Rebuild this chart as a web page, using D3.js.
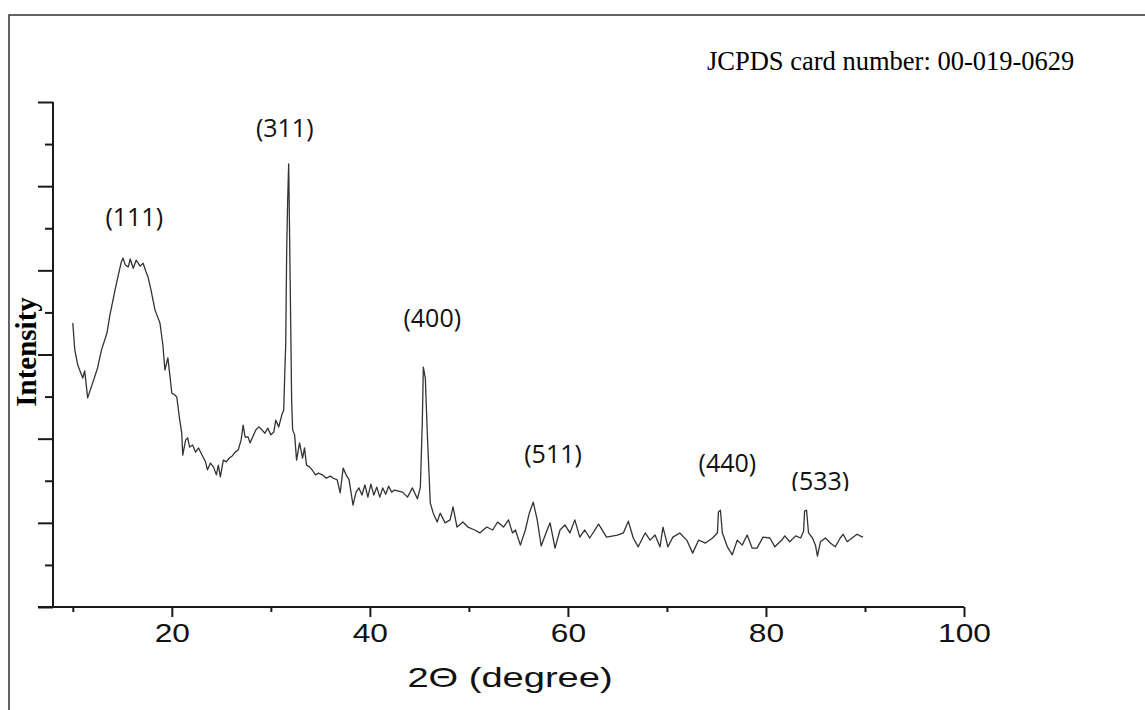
<!DOCTYPE html>
<html>
<head>
<meta charset="utf-8">
<script src="https://cdn.jsdelivr.net/npm/d3@7"></script>
<style>
  body { margin: 0; background: #fff; }
  svg { display: block; }
</style>
</head>
<body>
<div id="chart"></div>
<script>
// XRD pattern (2-theta in degrees, intensity in arbitrary counts)
const twoTheta = [
  10.0, 10.2, 10.5, 11.0, 11.2, 11.5, 12.0, 12.5, 12.9, 13.45, 13.75, 14.06, 14.26, 14.6, 14.9,
  15.07, 15.3, 15.6, 15.8, 16.1, 16.4, 16.8, 17.1, 17.4, 17.6, 17.9, 18.1, 18.3, 18.6, 18.8,
  19.1, 19.3, 19.6, 19.8, 20.0, 20.3, 20.5, 20.8, 21.0, 21.1, 21.4, 21.6, 21.8, 22.1, 22.4,
  22.7, 23.1, 23.4, 23.6, 23.9, 24.2, 24.5, 24.7, 24.9, 25.2, 25.5, 25.8, 26.1, 26.4, 26.7,
  27.0, 27.2, 27.4, 27.7, 27.9, 28.2, 28.5, 28.8, 29.1, 29.4, 29.7, 30.0, 30.3, 30.5, 30.8,
  31.1, 31.3, 31.4, 31.5, 31.6, 31.7, 31.8, 31.9, 32.0, 32.1, 32.2, 32.4, 32.6, 32.9, 33.2,
  33.4, 33.6, 33.9, 34.2, 34.5, 34.8, 35.2, 35.6, 36.0, 36.3, 36.7, 37.0, 37.3, 37.6, 37.9,
  38.3, 38.6, 38.9, 39.2, 39.5, 39.8, 40.1, 40.4, 40.7, 41.0, 41.3, 41.6, 41.9, 42.2, 42.5,
  43.3, 43.8, 44.3, 44.8, 45.1, 45.3, 45.4, 45.6, 45.8, 46.1, 46.4, 46.8, 47.1, 47.6, 48.1,
  48.4, 48.8, 49.4, 49.9, 50.6, 51.1, 51.8, 52.4, 52.9, 53.5, 54.0, 54.4, 54.7, 55.2, 55.7,
  56.1, 56.5, 56.9, 57.3, 57.9, 58.2, 58.7, 59.2, 59.7, 60.2, 60.7, 61.2, 61.7, 62.2, 63.1,
  63.9, 65.0, 65.6, 66.1, 66.6, 67.1, 67.8, 68.3, 68.8, 69.3, 69.6, 70.1, 70.6, 71.3, 72.0,
  72.6, 73.2, 73.9, 74.6, 75.1, 75.2, 75.4, 75.6, 76.1, 76.6, 77.1, 77.6, 78.1, 78.6, 79.1,
  79.7, 80.4, 80.9, 81.6, 81.9, 82.4, 83.0, 83.5, 83.8, 83.9, 84.1, 84.3, 84.7, 85.0, 85.2,
  85.5, 86.0, 86.5, 87.0, 87.5, 87.8, 88.2, 88.7, 89.2, 89.5, 89.8
];
const intensity = [
  675, 611, 575, 544, 561, 497, 532, 568, 611, 651, 694, 729, 753, 789, 820,
  829, 813, 808, 827, 805, 824, 810, 817, 796, 784, 753, 729, 706, 687, 675,
  622, 563, 592, 551, 508, 504, 499, 444, 413, 361, 397, 402, 380, 385, 368,
  378, 359, 345, 326, 342, 333, 314, 337, 309, 349, 345, 354, 359, 368, 373,
  397, 432, 404, 404, 390, 406, 421, 428, 421, 413, 425, 409, 416, 444, 428,
  456, 468, 551, 622, 848, 967, 1053, 872, 682, 492, 421, 409, 349, 390, 354,
  378, 337, 333, 325, 314, 318, 314, 306, 311, 306, 302, 271, 330, 314, 302,
  242, 273, 283, 266, 290, 261, 292, 266, 285, 261, 283, 268, 287, 273, 278,
  273, 261, 283, 257, 285, 444, 570, 544, 413, 247, 223, 202, 223, 200, 207,
  238, 190, 202, 190, 183, 176, 190, 183, 202, 190, 207, 176, 183, 147, 183,
  223, 249, 207, 145, 183, 200, 140, 183, 195, 176, 207, 166, 183, 164, 197,
  166, 171, 176, 204, 164, 143, 176, 159, 171, 143, 190, 143, 166, 176, 159,
  128, 159, 152, 164, 176, 226, 230, 176, 143, 124, 159, 147, 171, 140, 140,
  166, 164, 143, 159, 169, 155, 169, 164, 180, 228, 230, 176, 164, 147, 121,
  155, 164, 152, 143, 164, 173, 155, 164, 173, 169, 166
];

// peak labels (Miller indices) and where they sit
const peakLabels = ['(111)', '(311)', '(400)', '(511)', '(440)', '(533)'];
const peakLabelX = [16.2, 31.4, 46.3, 58.5, 76.1, 85.5];
const peakLabelY = [905, 1117, 665, 342, 321, 278];

const xMajorTicks = [20, 40, 60, 80, 100];
const xMinorTicks = [10, 30, 50, 70, 90];
const yMajorTicks = [0, 200, 400, 600, 800, 1000, 1200];
const yMinorTicks = [100, 300, 500, 700, 900, 1100];

const cardText = 'JCPDS card number: 00-019-0629';

const W = 1145, H = 710;

const svg = d3.select('#chart').append('svg')
  .attr('width', W)
  .attr('height', H);

// frame round the figure (right and bottom edges run off the page)
svg.append('rect')
  .attr('x', 9).attr('y', 15)
  .attr('width', W + 20).attr('height', H + 20)
  .attr('fill', 'none')
  .attr('stroke', '#333')
  .attr('stroke-width', 1.5);

const x = d3.scaleLinear().domain([8, 100]).range([53, 964]);
const y = d3.scaleLinear().domain([0, 1200]).range([607, 102]);

const axisColor = '#1a1a1a';

// x axis
const xMinor = svg.append('g')
  .attr('transform', `translate(0,${y(0)})`)
  .call(d3.axisBottom(x).tickValues(xMinorTicks).tickSize(5).tickFormat(''));
const xMajor = svg.append('g')
  .attr('transform', `translate(0,${y(0)})`)
  .call(d3.axisBottom(x).tickValues(xMajorTicks).tickSize(10).tickSizeOuter(0).tickPadding(5));
xMinor.select('.domain').remove();
xMajor.select('.domain').remove();
[xMinor, xMajor].forEach(g => g.selectAll('line').attr('stroke', axisColor).attr('stroke-width', 2));
xMajor.selectAll('text')
  .attr('fill', '#111')
  .style('font-family', '"Liberation Sans", Arial, sans-serif')
  .style('font-size', '26px')
  .attr('dy', '0.78em')
  .attr('transform', 'scale(1.22,1)');

// the x axis line runs a little past the y axis on the left
svg.append('line')
  .attr('x1', x(8) - 15).attr('x2', x(100))
  .attr('y1', y(0)).attr('y2', y(0))
  .attr('stroke', axisColor)
  .attr('stroke-width', 2);

// y axis, no labels
const yMinor = svg.append('g')
  .attr('transform', `translate(${x(8)},0)`)
  .call(d3.axisLeft(y).tickValues(yMinorTicks).tickSize(8).tickFormat(''));
const yMajor = svg.append('g')
  .attr('transform', `translate(${x(8)},0)`)
  .call(d3.axisLeft(y).tickValues(yMajorTicks).tickSize(15).tickFormat(''));
yMinor.select('.domain').remove();
yMajor.select('.domain').remove();
[yMinor, yMajor].forEach(g => g.selectAll('line').attr('stroke', axisColor).attr('stroke-width', 2));
svg.append('line')
  .attr('x1', x(8)).attr('x2', x(8))
  .attr('y1', y(1200)).attr('y2', y(0))
  .attr('stroke', axisColor)
  .attr('stroke-width', 2);

// pattern
const points = twoTheta.map((t, i) => [t, intensity[i]]);
const line = d3.line()
  .x(d => x(d[0]))
  .y(d => y(d[1]));

svg.append('path')
  .datum(points)
  .attr('d', line)
  .attr('fill', 'none')
  .attr('stroke', '#333')
  .attr('stroke-width', 1.3)
  .attr('stroke-linejoin', 'round');

// peak labels; the last one is cut off along its baseline like in the figure
const lastIdx = peakLabels.length - 1;
svg.append('clipPath')
  .attr('id', 'cut533')
  .append('rect')
  .attr('x', 0).attr('y', 0)
  .attr('width', W)
  .attr('height', y(peakLabelY[lastIdx]) + 1);

svg.selectAll('text.peak')
  .data(peakLabels)
  .enter()
  .append('text')
  .attr('class', 'peak')
  .attr('x', (d, i) => x(peakLabelX[i]))
  .attr('y', (d, i) => y(peakLabelY[i]))
  .attr('text-anchor', 'middle')
  .attr('clip-path', (d, i) => i === lastIdx ? 'url(#cut533)' : null)
  .style('font-family', '"Open Sans", "Noto Sans", sans-serif')
  .style('font-size', '25px')
  .attr('fill', '#111')
  .text(d => d);

// axis titles
svg.append('text')
  .attr('transform', 'translate(510,687) scale(1.36,1)')
  .attr('text-anchor', 'middle')
  .style('font-family', '"Liberation Sans", Arial, sans-serif')
  .style('font-size', '28px')
  .attr('fill', '#111')
  .text('2\u0398 (degree)');

svg.append('text')
  .attr('transform', 'translate(36,352) rotate(-90)')
  .attr('text-anchor', 'middle')
  .style('font-family', '"Liberation Serif", "Times New Roman", serif')
  .style('font-size', '29px')
  .style('font-weight', 'bold')
  .attr('fill', '#000')
  .text('Intensity');

svg.append('text')
  .attr('x', 707)
  .attr('y', 70)
  .style('font-family', '"Liberation Serif", "Times New Roman", serif')
  .style('font-size', '26.5px')
  .attr('fill', '#000')
  .text(cardText);
</script>
</body>
</html>
